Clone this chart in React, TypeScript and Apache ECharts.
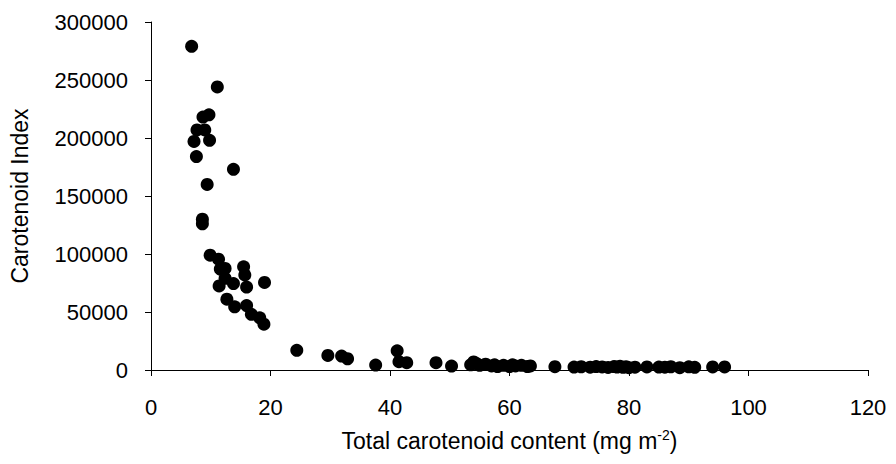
import React, { useEffect, useRef } from "react";
import * as echarts from "echarts";

const xValues = [
  6.8, 11.1, 8.7, 9.7, 7.7, 9.0, 7.2, 9.8, 7.6, 13.8, 9.4, 8.6, 8.6,
  9.9, 11.3, 11.6, 12.4, 15.5, 15.7, 12.4, 13.8, 11.4, 16.0, 19.0, 12.7,
  14.0, 16.0, 16.8, 18.2, 18.9, 24.4, 29.6, 31.9, 32.9, 37.6, 41.2, 41.5,
  42.8, 47.7, 50.3, 53.5, 54.0, 54.5, 55.0, 56.0, 57.0, 57.5, 58.0, 59.0,
  60.0, 60.5, 61.0, 62.0, 63.0, 63.5, 67.6, 70.8, 72.0, 73.5, 74.5, 75.5,
  76.5, 77.5, 78.0, 78.5, 79.0, 79.5, 80.0, 81.0, 83.0, 85.0, 86.0, 87.0,
  88.5, 90.0, 91.0, 94.0, 96.0,
];

const yValues = [
  279000, 244000, 218000, 220000, 207000, 207000, 197000, 198000, 184000,
  173000, 160000, 130000, 126000, 99000, 95500, 87000, 87500, 89000, 82000,
  79000, 74500, 72500, 71500, 75500, 61000, 54500, 55500, 48000, 45000,
  39500, 17000, 12600, 12000, 9700, 4300, 16500, 7200, 6300, 6300, 3400,
  4500, 7000, 5500, 4000, 5000, 3500, 4500, 3000, 4000, 3000, 4500, 3500,
  4000, 3000, 3500, 2900, 2500, 2800, 2400, 3000, 2600, 2200, 3000, 2500,
  3200, 2300, 2900, 2000, 2400, 2600, 2500, 2400, 2800, 2000, 2700, 2300,
  2600, 2600,
];

const xTicks = { min: 0, max: 120, interval: 20 };
const yTicks = { min: 0, max: 300000, interval: 50000 };

const FONT = "'Liberation Sans', Arial, sans-serif";

export default function App() {
  const ref = useRef<HTMLDivElement>(null);
  useEffect(() => {
    document.body.style.margin = "0";
    if (!ref.current) return;
    const chart = echarts.init(ref.current, null, { renderer: "svg" });
    const data = xValues.map((x, i) => [x, yValues[i]]);
    chart.setOption({
      animation: false,
      backgroundColor: "#ffffff",
      grid: { left: 146, right: 28, top: 22, bottom: 94, containLabel: false },
      xAxis: {
        type: "value",
        min: xTicks.min,
        max: xTicks.max,
        interval: xTicks.interval,
        name: "Total carotenoid content (mg m{sup|-2})",
        nameLocation: "middle",
        nameGap: 58,
        nameTextStyle: {
          fontFamily: FONT,
          fontSize: 23,
          color: "#000",
          rich: {
            sup: { fontFamily: FONT, fontSize: 14, color: "#000", verticalAlign: "top", padding: [0, 0, 12, 0] },
          },
        },
        axisLine: { show: true, onZero: false, lineStyle: { color: "#000", width: 1 } },
        axisTick: { show: true, length: 6, lineStyle: { color: "#000" } },
        axisLabel: { fontFamily: FONT, fontSize: 22, color: "#000", margin: 26, formatter: (v: number) => String(v) },
        splitLine: { show: false },
      },
      yAxis: {
        type: "value",
        min: yTicks.min,
        max: yTicks.max,
        interval: yTicks.interval,
        name: "Carotenoid Index",
        nameLocation: "middle",
        nameRotate: 90,
        nameGap: 120,
        nameTextStyle: { fontFamily: FONT, fontSize: 23, color: "#000" },
        axisLine: { show: true, onZero: false, lineStyle: { color: "#000", width: 1 } },
        axisTick: { show: true, length: 6, lineStyle: { color: "#000" } },
        axisLabel: { fontFamily: FONT, fontSize: 22, color: "#000", margin: 23, formatter: (v: number) => String(v) },
        splitLine: { show: false },
      },
      series: [
        {
          type: "scatter",
          data,
          symbol: "circle",
          symbolSize: 13,
          itemStyle: { color: "#000", opacity: 1 },
        },
      ],
    });
    return () => chart.dispose();
  }, []);
  return <div ref={ref} style={{ width: 896, height: 464 }} />;
}
